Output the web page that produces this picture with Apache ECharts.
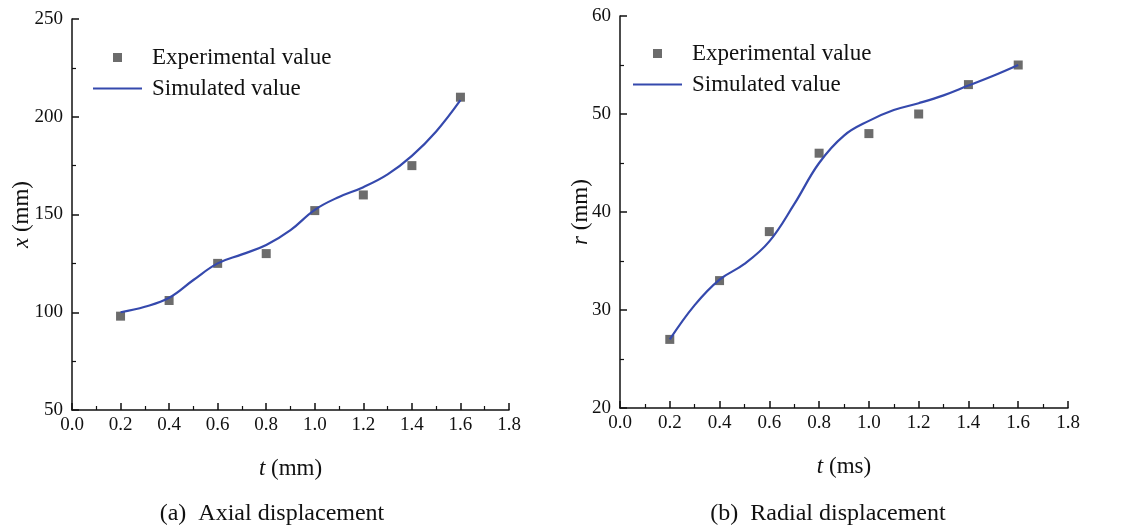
<!DOCTYPE html>
<html>
<head>
<meta charset="utf-8">
<script src="https://cdn.jsdelivr.net/npm/echarts@6/dist/echarts.min.js"></script>
<style>
html,body{margin:0;padding:0;background:#fff;}
#main{width:1127px;height:529px;}
</style>
</head>
<body>
<div id="main"></div>
<script>
// ---- data ----
const tExp = [0.2, 0.4, 0.6, 0.8, 1.0, 1.2, 1.4, 1.6];
const axialExp = [98, 106, 125, 130, 152, 160, 175, 210];
const radialExp = [27, 33, 38, 46, 48, 50, 53, 55];

const tSim = [0.2, 0.3, 0.4, 0.5, 0.6, 0.7, 0.8, 0.9, 1.0, 1.1, 1.2, 1.3, 1.4, 1.5, 1.6];
const axialSim = [100, 102.8, 107.4, 116.5, 125, 129.6, 134.4, 142, 152.4, 159, 164, 170.5, 180, 192.5, 208.5];
const radialSim = [27, 30.5, 33.1, 34.7, 37, 40.8, 45, 47.8, 49.3, 50.4, 51.1, 51.9, 52.9, 53.9, 55];

const xTicks = [0.0, 0.2, 0.4, 0.6, 0.8, 1.0, 1.2, 1.4, 1.6, 1.8];
const axialTicks = [50, 100, 150, 200, 250];
const radialTicks = [20, 30, 40, 50, 60];

const expName = 'Experimental value';
const simName = 'Simulated value';
const captions = ['(a)  Axial displacement', '(b)  Radial displacement'];

// ---- styling ----
const FONT = "'Liberation Serif','Times New Roman',serif";
const EXP_COLOR = '#474747';
const SIM_COLOR = '#3549ad';
// legend icons: bounding box 49x9, square / thin line inside
const ICON_SQUARE = 'path://M0,0M49,9M20,0L29,0L29,9L20,9Z';
const ICON_LINE = 'path://M0,0M49,9M0,3.5L49,3.5L49,5.5L0,5.5Z';

function pairs(xs, ys) { return xs.map((x, i) => [x, ys[i]]); }

function xAxisDef(gridIndex, unit) {
  return {
    type: 'value', gridIndex: gridIndex,
    min: xTicks[0], max: xTicks[xTicks.length - 1], interval: 0.2,
    name: '{i|t} (' + unit + ')', nameLocation: 'middle', nameGap: 47, nameMoveOverlap: false,
    nameTextStyle: { fontFamily: FONT, fontSize: 23, color: '#111',
      rich: { i: { fontFamily: FONT, fontSize: 23, fontStyle: 'italic', color: '#111' } } },
    axisLine: { show: true, onZero: false, lineStyle: { color: '#111', width: 1.5 } },
    axisTick: { show: true, inside: true, length: 7, lineStyle: { color: '#111', width: 1.5 } },
    minorTick: { show: true, splitNumber: 2, length: 4, lineStyle: { color: '#111', width: 1.2 } },
    splitLine: { show: false },
    axisLabel: { fontFamily: FONT, fontSize: 19, color: '#111', margin: 6,
      formatter: v => Number(v).toFixed(1), showMinLabel: true, showMaxLabel: true }
  };
}
function yAxisDef(gridIndex, ticks, letter, gap) {
  return {
    type: 'value', gridIndex: gridIndex,
    min: ticks[0], max: ticks[ticks.length - 1], interval: ticks[1] - ticks[0],
    name: '{i|' + letter + '} (mm)', nameLocation: 'middle', nameGap: gap, nameRotate: 90, nameMoveOverlap: false,
    nameTextStyle: { fontFamily: FONT, fontSize: 23, color: '#111',
      rich: { i: { fontFamily: FONT, fontSize: 23, fontStyle: 'italic', color: '#111' } } },
    axisLine: { show: true, onZero: false, lineStyle: { color: '#111', width: 1.5 } },
    axisTick: { show: true, inside: true, length: 7, lineStyle: { color: '#111', width: 1.5 } },
    minorTick: { show: true, splitNumber: 2, length: 4, lineStyle: { color: '#111', width: 1.2 } },
    splitLine: { show: false },
    axisLabel: { fontFamily: FONT, fontSize: 19, color: '#111', margin: 9,
      showMinLabel: true, showMaxLabel: true }
  };
}
function legendDef(left, top) {
  return {
    orient: 'vertical', left: left, top: top, padding: 0,
    itemWidth: 49, itemHeight: 9, itemGap: 8,
    textStyle: { fontFamily: FONT, fontSize: 23, color: '#111', lineHeight: 23, padding: [0, 0, 0, 5] },
    data: [
      { name: expName, icon: ICON_SQUARE, itemStyle: { color: EXP_COLOR, borderWidth: 0 } },
      { name: simName, icon: ICON_LINE, itemStyle: { color: SIM_COLOR, borderWidth: 0 } }
    ],
    selectedMode: false
  };
}

const chart = echarts.init(document.getElementById('main'), null, { renderer: 'canvas' });
const option = {
  animation: false,
  backgroundColor: '#fff',
  grid: [
    { left: 72, top: 19, width: 437, height: 391, outerBoundsMode: 'none', containLabel: false },
    { left: 620, top: 16, width: 448, height: 392, outerBoundsMode: 'none', containLabel: false }
  ],
  xAxis: [xAxisDef(0, 'mm'), xAxisDef(1, 'ms')],
  yAxis: [yAxisDef(0, axialTicks, 'x', 39), yAxisDef(1, radialTicks, 'r', 28)],
  legend: [legendDef(93, 46), legendDef(633, 42)],
  series: [
    { name: expName, type: 'scatter', xAxisIndex: 0, yAxisIndex: 0, symbol: 'rect', symbolSize: 9,
      itemStyle: { color: EXP_COLOR }, data: pairs(tExp, axialExp), z: 2 },
    { name: simName, type: 'line', xAxisIndex: 0, yAxisIndex: 0, smooth: 0.4, showSymbol: false, symbol: 'none',
      lineStyle: { color: SIM_COLOR, width: 2.2 }, itemStyle: { color: SIM_COLOR }, data: pairs(tSim, axialSim), z: 3 },
    { name: expName, type: 'scatter', xAxisIndex: 1, yAxisIndex: 1, symbol: 'rect', symbolSize: 9,
      itemStyle: { color: EXP_COLOR }, data: pairs(tExp, radialExp), z: 2 },
    { name: simName, type: 'line', xAxisIndex: 1, yAxisIndex: 1, smooth: 0.4, showSymbol: false, symbol: 'none',
      lineStyle: { color: SIM_COLOR, width: 2.2 }, itemStyle: { color: SIM_COLOR }, data: pairs(tSim, radialSim), z: 3 }
  ],
  graphic: [
    { type: 'text', x: 272, y: 514, style: { text: captions[0], font: '24px ' + FONT, fill: '#111', align: 'center', verticalAlign: 'middle' } },
    { type: 'text', x: 828, y: 514, style: { text: captions[1], font: '24px ' + FONT, fill: '#111', align: 'center', verticalAlign: 'middle' } }
  ]
};
chart.setOption(option);
</script>
</body>
</html>
